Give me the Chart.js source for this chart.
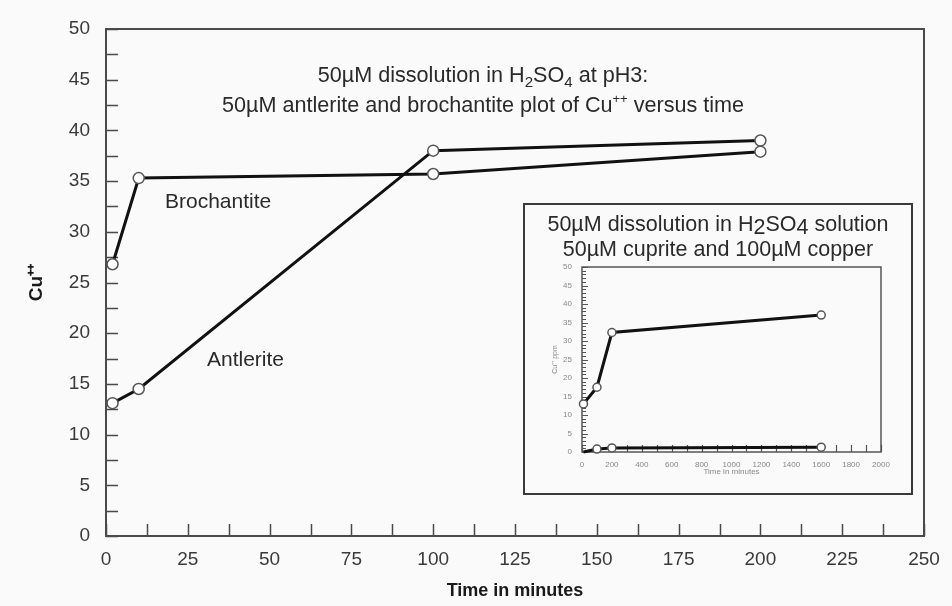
<!DOCTYPE html>
<html lang="en">
<head>
<meta charset="UTF-8">
<title>Cu++ dissolution versus time</title>
<script src="https://cdn.jsdelivr.net/npm/chart.js@4.4.0/dist/chart.umd.min.js"></script>
<style>
    body, html {
        margin: 0;
        padding: 0;
        background: #fafafa;
    }
    #wrap {
        position: relative;
        width: 952px;
        height: 606px;
        font-family: "Liberation Sans", Arial, sans-serif;
        color: #2a2a2a;
    }
    #mainBox {
        position: absolute;
        left: 0;
        top: 0;
        width: 952px;
        height: 606px;
    }
    .note {
        position: absolute;
        font-size: 21px;
        white-space: nowrap;
    }
    #title {
        left: 183px;
        width: 600px;
        top: 60px;
        text-align: center;
        font-size: 21.6px;
        line-height: 30px;
    }
    #inset {
        position: absolute;
        left: 523px;
        top: 203px;
        width: 390px;
        height: 292px;
        border: 2px solid #3a3a3a;
        box-sizing: border-box;
        background: #fafafa;
    }
    #insetBox {
        position: absolute;
        left: 0;
        top: 0;
        width: 386px;
        height: 288px;
    }
    #insetTitle {
        position: absolute;
        left: 0;
        right: 0;
        top: 7px;
        text-align: center;
        font-size: 21.5px;
        line-height: 25px;
        white-space: nowrap;
    }
    sub {
        font-size: 0.7em;
        vertical-align: -0.3em;
        line-height: 0;
    }
    sup {
        font-size: 0.6em;
        vertical-align: 0.7em;
        line-height: 0;
    }
    .lo {
        position: relative;
        top: 3px;
    }
</style>
</head>
<body>
<div id="wrap">
    <div id="mainBox"><canvas id="mainChart"></canvas></div>

    <div class="note" id="title">
        50&micro;M dissolution in H<sub>2</sub>SO<sub>4</sub> at pH3:<br>
        50&micro;M antlerite and brochantite plot of Cu<sup>++</sup> versus time
    </div>
    <div class="note" style="left:165px; top:189px;">Brochantite</div>
    <div class="note" style="left:207px; top:347px;">Antlerite</div>

    <div id="inset">
        <div id="insetBox"><canvas id="insetChart"></canvas></div>
        <div id="insetTitle">
            50&micro;M dissolution in H<span class="lo">2</span>SO<span class="lo">4</span> solution<br>
            50&micro;M cuprite and 100&micro;M copper
        </div>
    </div>
</div>

<script>
    // main plot: minutes vs Cu++
    const mainTime = [2, 10, 100, 200];
    const antlerite = [13.1, 14.5, 38.0, 39.0];
    const brochantite = [26.8, 35.3, 35.7, 37.9];
    const mainX = {min: 0, max: 250, step: 12.5, labelEvery: 25};
    const mainY = {min: 0, max: 50, step: 2.5, labelEvery: 5};

    // inset plot: longer run, minutes vs Cu++ ppm
    const insetTime = [10, 100, 200, 1600];
    const cuprite = [13.0, 17.5, 32.3, 37.0];
    const copper = [0.0, 0.8, 1.1, 1.3];
    const insetX = {min: 0, max: 2000, step: 100, labelEvery: 200};
    const insetY = {min: 0, max: 50, step: 1, labelEvery: 5};

    Chart.defaults.font.family = '"Liberation Sans", Arial, sans-serif';

    function points(xs, ys) {
        return xs.map((x, i) => ({x: x, y: ys[i]}));
    }

    // box round the plot area plus tick marks pointing inward
    const frameTicks = {
        id: 'frameTicks',
        beforeDatasetsDraw(chart, args, o) {
            const {ctx, chartArea: a} = chart;
            const xs = chart.scales.x, ys = chart.scales.y;
            ctx.save();
            ctx.strokeStyle = o.color;
            ctx.lineWidth = o.tickWidth;
            ctx.beginPath();
            xs.ticks.forEach(t => {
                const px = Math.round(xs.getPixelForValue(t.value)) + 0.5;
                const len = t.value % o.xMajor === 0 ? o.xLen : o.xMinorLen;
                ctx.moveTo(px, a.bottom);
                ctx.lineTo(px, a.bottom - len);
            });
            ys.ticks.forEach(t => {
                const py = Math.round(ys.getPixelForValue(t.value)) + 0.5;
                const len = t.value % o.yMajor === 0 ? o.yLen : o.yMinorLen;
                ctx.moveTo(a.left, py);
                ctx.lineTo(a.left + len, py);
            });
            ctx.stroke();
            ctx.lineWidth = o.frameWidth;
            ctx.strokeRect(a.left, a.top, a.right - a.left, a.bottom - a.top);
            ctx.restore();
        }
    };

    function series(data, width, radius, radii) {
        return {
            data: data,
            borderColor: '#111',
            borderWidth: width,
            pointRadius: radii || radius,
            pointBorderWidth: 1.5,
            pointBorderColor: '#555',
            pointBackgroundColor: '#fff',
            tension: 0,
            clip: false
        };
    }

    new Chart(document.getElementById('mainChart'), {
        type: 'line',
        data: {
            datasets: [
                series(points(mainTime, brochantite), 3, 5.5),
                series(points(mainTime, antlerite), 3, 5.5)
            ]
        },
        options: {
            responsive: true,
            maintainAspectRatio: false,
            animation: false,
            layout: {padding: {top: 29, right: 28, left: 0, bottom: 0}},
            plugins: {
                legend: {display: false},
                tooltip: {enabled: false},
                frameTicks: {
                    color: '#4a4a4a', tickWidth: 1.5, frameWidth: 2,
                    xMajor: 12.5, xLen: 12, xMinorLen: 12,
                    yMajor: 2.5, yLen: 12, yMinorLen: 12
                }
            },
            scales: {
                x: {
                    type: 'linear',
                    min: mainX.min,
                    max: mainX.max,
                    afterFit(s) { s.height = 70; },
                    grid: {display: false},
                    border: {display: false},
                    ticks: {
                        stepSize: mainX.step,
                        autoSkip: false,
                        maxRotation: 0,
                        padding: 4,
                        color: '#3a3a3a',
                        font: {size: 19},
                        callback: v => v % mainX.labelEvery === 0 ? v : ''
                    },
                    title: {
                        display: true,
                        text: 'Time in minutes',
                        color: '#1a1a1a',
                        font: {size: 18, weight: 'bold'},
                        padding: {top: 0, bottom: 4}
                    }
                },
                y: {
                    min: mainY.min,
                    max: mainY.max,
                    afterFit(s) { s.width = 106; },
                    grid: {display: false},
                    border: {display: false},
                    ticks: {
                        stepSize: mainY.step,
                        autoSkip: false,
                        padding: 8,
                        color: '#3a3a3a',
                        font: {size: 19},
                        callback: v => v % mainY.labelEvery === 0 ? v : ''
                    },
                    title: {
                        display: true,
                        text: 'Cu\u207A\u207A',
                        color: '#1a1a1a',
                        font: {size: 19, weight: 'bold'},
                        padding: {top: 25, bottom: 0}
                    }
                }
            }
        },
        plugins: [frameTicks]
    });

    new Chart(document.getElementById('insetChart'), {
        type: 'line',
        data: {
            datasets: [
                series(points(insetTime, cuprite), 3, 4),
                series(points(insetTime, copper), 3, 4, [0, 4, 4, 4])
            ]
        },
        options: {
            responsive: true,
            maintainAspectRatio: false,
            animation: false,
            layout: {padding: {top: 62, right: 30, left: 0, bottom: 0}},
            plugins: {
                legend: {display: false},
                tooltip: {enabled: false},
                frameTicks: {
                    color: '#555', tickWidth: 1.2, frameWidth: 1.5,
                    xMajor: 100, xLen: 7, xMinorLen: 7,
                    yMajor: 5, yLen: 6, yMinorLen: 4
                }
            },
            scales: {
                x: {
                    type: 'linear',
                    min: insetX.min,
                    max: insetX.max,
                    afterFit(s) { s.height = 41; },
                    grid: {display: false},
                    border: {display: false},
                    ticks: {
                        stepSize: insetX.step,
                        autoSkip: false,
                        maxRotation: 0,
                        padding: 0,
                        color: '#888',
                        font: {size: 8},
                        callback: v => v % insetX.labelEvery === 0 ? v : ''
                    },
                    title: {
                        display: true,
                        text: 'Time in minutes',
                        color: '#888',
                        font: {size: 8},
                        padding: {top: 0, bottom: 16}
                    }
                },
                y: {
                    min: insetY.min,
                    max: insetY.max,
                    afterFit(s) { s.width = 57; },
                    grid: {display: false},
                    border: {display: false},
                    ticks: {
                        stepSize: insetY.step,
                        autoSkip: false,
                        padding: 2,
                        color: '#888',
                        font: {size: 8},
                        callback: v => v % insetY.labelEvery === 0 ? v : ''
                    },
                    title: {
                        display: true,
                        text: 'Cu\u207A\u207A ppm',
                        color: '#888',
                        font: {size: 7},
                        padding: {top: 26, bottom: 0}
                    }
                }
            }
        },
        plugins: [frameTicks]
    });
</script>
</body>
</html>
